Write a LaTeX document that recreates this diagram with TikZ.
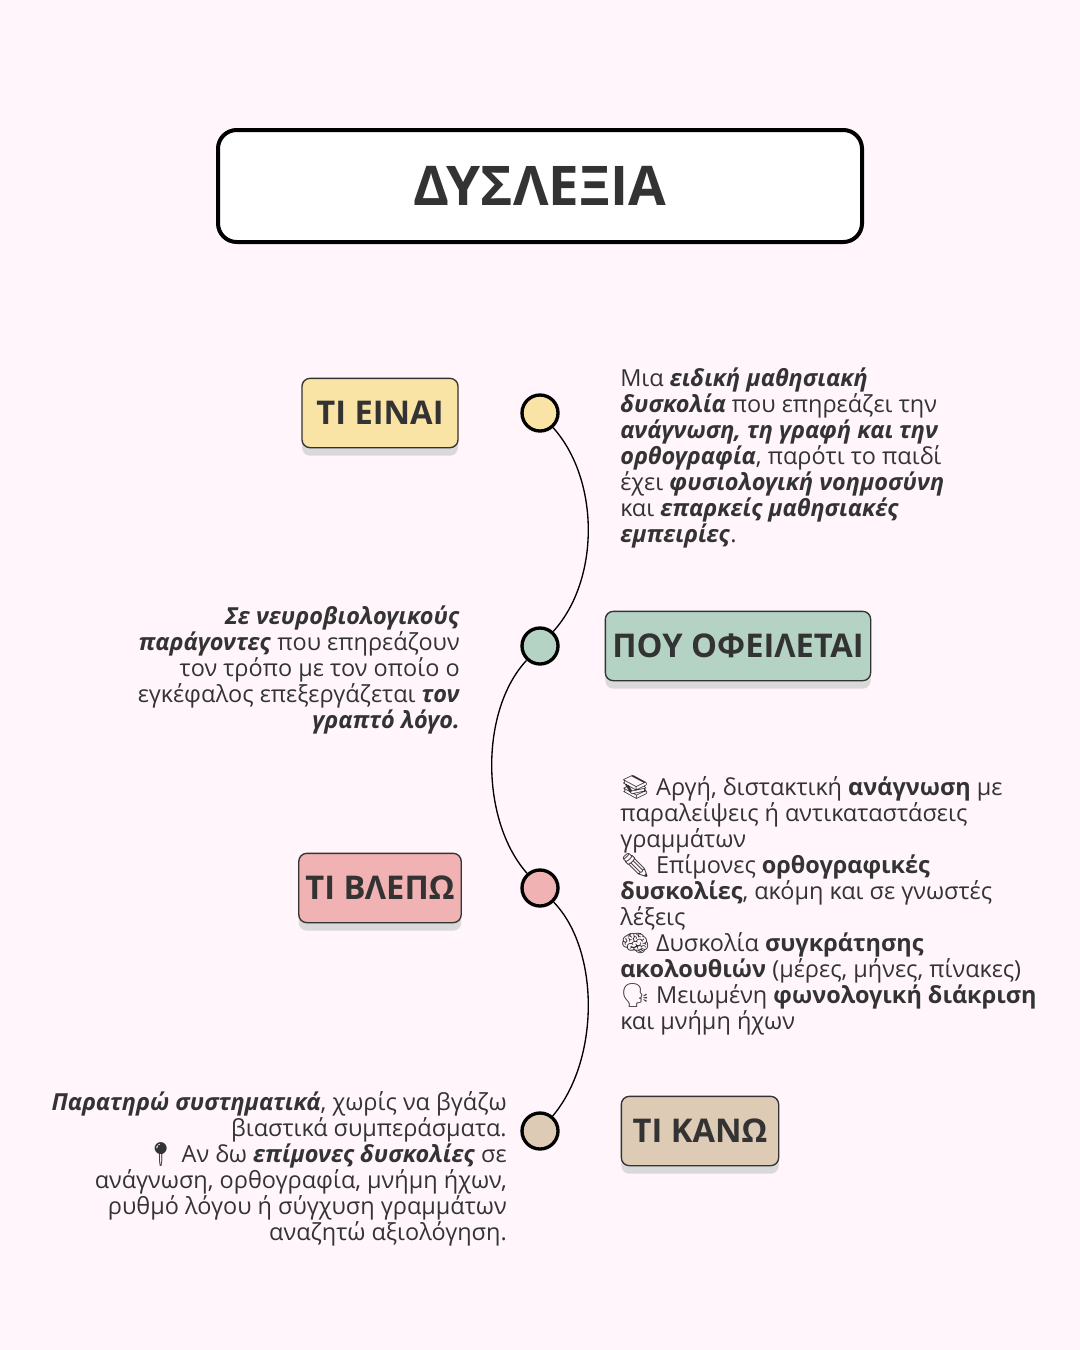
\documentclass[tikz,border=0pt]{standalone}
\usepackage{fontspec}
\setmainfont{Open Sans}
\newfontfamily\emo{Noto Emoji}
\definecolor{bgpink}{HTML}{FFF5FA}
\definecolor{ink}{HTML}{333333}
\definecolor{cyellow}{HTML}{F9E3A5}
\definecolor{cgreen}{HTML}{B5D3C4}
\definecolor{cpink}{HTML}{F0B2B2}
\definecolor{cbeige}{HTML}{DDCBB6}
\newcommand{\bi}[1]{\textbf{\textit{#1}}}
\tikzset{
  dot/.style   = {circle, draw=black, line width=2.5pt, minimum size=27pt, inner sep=0pt},
  tag/.style   = {rectangle, rounded corners=6pt, draw=ink, line width=1pt,
                  minimum height=52pt, inner xsep=5pt, font=\fontsize{24.5}{28}\selectfont\bfseries, text=ink,
                  drop shadow={shadow xshift=0pt, shadow yshift=-6pt, fill=black!15, opacity=1}},
  blurb/.style = {font=\fontsize{17.6}{19.5}\selectfont, text=ink, inner sep=0pt}
}
\usetikzlibrary{positioning,shadows}
\begin{document}
\begin{tikzpicture}[x=0.75pt, y=-0.75pt]
  \fill [bgpink] (0,0) rectangle (1080,1350);
  \useasboundingbox (0,0) rectangle (1080,1350);

  % title
  \node [draw=black, line width=3pt, rounded corners=14pt, fill=white,
         minimum width=483pt, minimum height=84pt, text=ink,
         font=\fontsize{41}{46}\selectfont\bfseries] (title) at (540,186) {ΔΥΣΛΕΞΙΑ};

  % timeline
  \node [dot, fill=cyellow] (d1) at (540,413) {};
  \node [dot, fill=cgreen]  (d2) at (540,646) {};
  \node [dot, fill=cpink]   (d3) at (540,888) {};
  \node [dot, fill=cbeige]  (d4) at (540,1131) {};
  \draw [line width=1pt] (d1) .. controls (600,480) and (600,580) .. (d2);
  \draw [line width=1pt] (d2) .. controls (480,710) and (480,820) .. (d3);
  \draw [line width=1pt] (d3) .. controls (600,950) and (600,1060) .. (d4);

  % tags
  \node [tag, fill=cyellow, minimum width=117pt] (t1) at (380,413) {ΤΙ ΕΙΝΑΙ};
  \node [tag, fill=cgreen, minimum width=199pt]  (t2) at (738,646) {ΠΟΥ ΟΦΕΙΛΕΤΑΙ};
  \node [tag, fill=cpink, minimum width=117pt]   (t3) at (380,888) {ΤΙ ΒΛΕΠΩ};
  \node [tag, fill=cbeige, minimum width=118pt]  (t4) at (700,1131) {ΤΙ ΚΑΝΩ};

  % texts
  \node [blurb, anchor=north west, align=left] (b1) at (620,368)
    {Μια \bi{ειδική μαθησιακή}\\ \bi{δυσκολία} που επηρεάζει την\\
     \bi{ανάγνωση, τη γραφή και την}\\ \bi{ορθογραφία}, παρότι το παιδί\\
     έχει \bi{φυσιολογική νοημοσύνη}\\ και \bi{επαρκείς μαθησιακές}\\ \bi{εμπειρίες}.};
  \node [blurb, anchor=north east, align=right] (b2) at (460,606)
    {\bi{Σε νευροβιολογικούς}\\ \bi{παράγοντες} που επηρεάζουν\\
     τον τρόπο με τον οποίο ο\\ εγκέφαλος επεξεργάζεται \bi{τον}\\ \bi{γραπτό λόγο.}};
  \node [blurb, anchor=north west, align=left] (b3) at (620,775)
    {{\emo 📚} Αργή, διστακτική \textbf{ανάγνωση} με\\ παραλείψεις ή αντικαταστάσεις\\ γραμμάτων\\
     {\emo ✏} Επίμονες \textbf{ορθογραφικές}\\ \textbf{δυσκολίες}, ακόμη και σε γνωστές\\ λέξεις\\
     {\emo 🧠} Δυσκολία \textbf{συγκράτησης}\\ \textbf{ακολουθιών} (μέρες, μήνες, πίνακες)\\
     {\emo 🗣} Μειωμένη \textbf{φωνολογική διάκριση}\\ και μνήμη ήχων};
  \node [blurb, anchor=north east, align=right] (b4) at (507,1091)
    {\bi{Παρατηρώ συστηματικά}, χωρίς να βγάζω\\ βιαστικά συμπεράσματα.\\
     {\emo 📍} Αν δω \bi{επίμονες δυσκολίες} σε\\ ανάγνωση, ορθογραφία, μνήμη ήχων,\\
     ρυθμό λόγου ή σύγχυση γραμμάτων\\ αναζητώ αξιολόγηση.};
\end{tikzpicture}
\end{document}
